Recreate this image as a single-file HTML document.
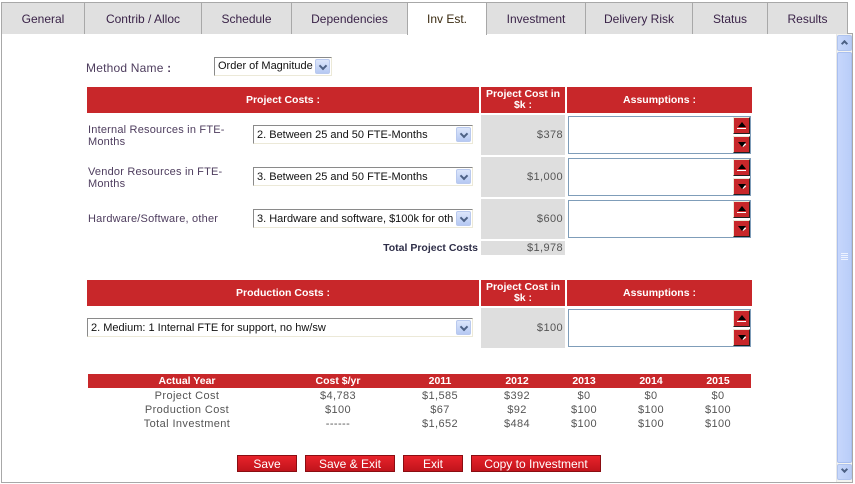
<!DOCTYPE html>
<html><head><meta charset="utf-8"><style>
*{margin:0;padding:0;box-sizing:border-box}
body{width:855px;height:484px;background:#fff;position:relative;overflow:hidden;font-family:"Liberation Sans",sans-serif}
.a{position:absolute}
.tab{position:absolute;top:2px;height:32px;background:#e0e0e0;border:1px solid #a8a8a8;border-bottom:none;font-size:12px;color:#3a2348;text-align:center;line-height:33px}
.tab.act{background:#fff;height:33px}
.red{position:absolute;background:#c8272a;color:#fff;font-weight:bold;font-size:10.5px;text-align:center}
.lbl{position:absolute;font-size:11px;color:#4e3d5e;line-height:12px;letter-spacing:0.2px}
.sel{position:absolute;height:19px;background:#fff;border:1px solid;border-color:#8a8a8a #ece9d8 #ece9d8 #8a8a8a;font-size:11px;color:#111;line-height:19px;padding-left:3px;white-space:nowrap;overflow:hidden}
.dd{position:absolute;right:1px;top:1px;width:15px;height:15px;background:linear-gradient(#dce6fb,#b6c9f3);border:1px solid #b9c9ee;border-radius:2px}
.dd:after{content:"";position:absolute;left:4px;top:3px;width:4px;height:4px;border-right:2px solid #4d6185;border-bottom:2px solid #4d6185;transform:rotate(45deg)}
.gray{position:absolute;background:#dedede;font-size:11px;color:#555;text-align:right;padding-right:2px;letter-spacing:0.4px}
.ta{position:absolute;border:1px solid #7f9db9;background:#fff}
.sp{position:absolute;width:17px;height:17px;background:#c8272a;border:1px solid;border-color:#ece9d8 #202020 #202020 #ece9d8}
.up:after{content:"";position:absolute;left:4px;top:4px;border-left:4px solid transparent;border-right:4px solid transparent;border-bottom:5px solid #000}
.up:before{content:"";position:absolute;left:3px;top:10px;width:9px;height:1px;background:#fff}
.dn:after{content:"";position:absolute;left:4px;top:5px;border-left:4px solid transparent;border-right:4px solid transparent;border-top:5px solid #000}
.dn:before{content:"";position:absolute;left:8px;top:7px;width:4px;height:2px;background:#fff;transform:rotate(-40deg)}
.cell{position:absolute;font-size:11px;color:#555;text-align:center;letter-spacing:0.4px;width:100px;line-height:13px}
.btn{position:absolute;top:455px;height:17px;background:linear-gradient(#e8232b,#c0141c);border:1px solid #8a0d12;color:#fff;font-size:12px;text-align:center;line-height:16px}
</style></head><body>
<!-- frame -->
<div class="a" style="left:1px;top:33px;width:852px;height:450px;border:1px solid #a8a8a8;border-top:1px solid #a8a8a8"></div>
<!-- tabs -->
<div class="tab" style="left:1px;width:84px">General</div>
<div class="tab" style="left:84px;width:118px">Contrib / Alloc</div>
<div class="tab" style="left:201px;width:91px">Schedule</div>
<div class="tab" style="left:291px;width:117px">Dependencies</div>
<div class="tab act" style="left:407px;width:80px;border-color:#a8a8a8;color:#3a2a10">Inv Est.</div>
<div class="tab" style="left:486px;width:100px">Investment</div>
<div class="tab" style="left:585px;width:108px">Delivery Risk</div>
<div class="tab" style="left:692px;width:76px">Status</div>
<div class="tab" style="left:767px;width:81px">Results</div>
<div class="a" style="left:408px;top:33px;width:78px;height:2px;background:#fff"></div>
<!-- scrollbar -->
<div class="a" style="left:836px;top:34px;width:16px;height:448px;background:#f4f4f0;border-left:1px solid #e8e8e8"></div>
<div class="a" style="left:837px;top:35px;width:15px;height:16px;background:linear-gradient(90deg,#c8d8fb,#b8cbf5);border:1px solid #b0c4ee;border-radius:2px"></div>
<div class="a" style="left:842px;top:41px;width:5px;height:5px;border-left:2px solid #4d6185;border-top:2px solid #4d6185;transform:rotate(45deg)"></div>
<div class="a" style="left:837px;top:52px;width:15px;height:411px;background:linear-gradient(90deg,#c6d6fc,#b9cdf8);border:1px solid #a9bff0;border-radius:2px"></div>
<div class="a" style="left:841px;top:253px;width:7px;height:1px;background:#eef3ff;box-shadow:0 2px 0 #eef3ff,0 4px 0 #eef3ff,0 6px 0 #eef3ff"></div>
<div class="a" style="left:837px;top:464px;width:15px;height:16px;background:linear-gradient(90deg,#c8d8fb,#b8cbf5);border:1px solid #b0c4ee;border-radius:2px"></div>
<div class="a" style="left:842px;top:467px;width:5px;height:5px;border-right:2px solid #4d6185;border-bottom:2px solid #4d6185;transform:rotate(45deg)"></div>

<!-- method -->
<div class="lbl" style="left:86px;top:62px;font-size:12px;line-height:13px">Method Name <b>:</b></div>
<div class="sel" style="left:214px;top:57px;width:118px;height:19px;line-height:17px">Order of Magnitude<div class="dd"></div></div>

<!-- project costs header -->
<div class="red" style="left:87px;top:87px;width:392px;height:26px;line-height:26px">Project Costs :</div>
<div class="red" style="left:481px;top:87px;width:84px;height:26px;line-height:11px;padding-top:2px">Project Cost in $k :</div>
<div class="red" style="left:567px;top:87px;width:185px;height:26px;line-height:26px">Assumptions :</div>

<!-- row1 -->
<div class="lbl" style="left:88px;top:124px">Internal Resources in FTE-<br>Months</div>
<div class="sel" style="left:253px;top:125px;width:220px">2. Between 25 and 50 FTE-Months<div class="dd"></div></div>
<div class="gray" style="left:481px;top:115px;width:84px;height:40px;line-height:41px">$378</div>
<div class="ta" style="left:568px;top:116px;width:183px;height:38px"></div>
<div class="sp up" style="left:733px;top:117px"></div>
<div class="sp dn" style="left:733px;top:136px"></div>
<!-- row2 -->
<div class="lbl" style="left:88px;top:166px">Vendor Resources in FTE-<br>Months</div>
<div class="sel" style="left:253px;top:167px;width:220px">3. Between 25 and 50 FTE-Months<div class="dd"></div></div>
<div class="gray" style="left:481px;top:157px;width:84px;height:40px;line-height:41px">$1,000</div>
<div class="ta" style="left:568px;top:158px;width:183px;height:38px"></div>
<div class="sp up" style="left:733px;top:159px"></div>
<div class="sp dn" style="left:733px;top:178px"></div>
<!-- row3 -->
<div class="lbl" style="left:88px;top:213px">Hardware/Software, other</div>
<div class="sel" style="left:253px;top:209px;width:220px">3. Hardware and software, $100k for oth<div class="dd"></div></div>
<div class="gray" style="left:481px;top:199px;width:84px;height:40px;line-height:41px">$600</div>
<div class="ta" style="left:568px;top:200px;width:183px;height:38px"></div>
<div class="sp up" style="left:733px;top:201px"></div>
<div class="sp dn" style="left:733px;top:220px"></div>
<!-- total -->
<div class="a" style="left:300px;top:242px;width:178px;text-align:right;font-size:10.5px;font-weight:bold;color:#2e2e48">Total Project Costs</div>
<div class="gray" style="left:481px;top:241px;width:84px;height:14px;line-height:15px">$1,978</div>

<!-- production -->
<div class="red" style="left:87px;top:280px;width:392px;height:26px;line-height:26px">Production Costs :</div>
<div class="red" style="left:481px;top:280px;width:84px;height:26px;line-height:11px;padding-top:2px">Project Cost in $k :</div>
<div class="red" style="left:567px;top:280px;width:185px;height:26px;line-height:26px">Assumptions :</div>
<div class="sel" style="left:87px;top:318px;width:386px">2. Medium: 1 Internal FTE for support, no hw/sw<div class="dd"></div></div>
<div class="gray" style="left:481px;top:308px;width:84px;height:40px;line-height:41px">$100</div>
<div class="ta" style="left:568px;top:309px;width:183px;height:38px"></div>
<div class="sp up" style="left:733px;top:310px"></div>
<div class="sp dn" style="left:733px;top:329px"></div>

<!-- summary table -->
<div class="red" style="left:88px;top:374px;width:663px;height:14px"></div>
<div class="red" style="left:137px;top:374px;width:100px;height:14px;line-height:14px;background:none">Actual Year</div>
<div class="red" style="left:288px;top:374px;width:100px;height:14px;line-height:14px;background:none">Cost $/yr</div>
<div class="red" style="left:390px;top:374px;width:100px;height:14px;line-height:14px;background:none">2011</div>
<div class="red" style="left:467px;top:374px;width:100px;height:14px;line-height:14px;background:none">2012</div>
<div class="red" style="left:534px;top:374px;width:100px;height:14px;line-height:14px;background:none">2013</div>
<div class="red" style="left:601px;top:374px;width:100px;height:14px;line-height:14px;background:none">2014</div>
<div class="red" style="left:668px;top:374px;width:100px;height:14px;line-height:14px;background:none">2015</div>

<div class="cell" style="left:137px;top:390px">Project Cost</div>
<div class="cell" style="left:288px;top:390px">$4,783</div>
<div class="cell" style="left:390px;top:390px">$1,585</div>
<div class="cell" style="left:467px;top:390px">$392</div>
<div class="cell" style="left:534px;top:390px">$0</div>
<div class="cell" style="left:601px;top:390px">$0</div>
<div class="cell" style="left:668px;top:390px">$0</div>

<div class="cell" style="left:137px;top:404px">Production Cost</div>
<div class="cell" style="left:288px;top:404px">$100</div>
<div class="cell" style="left:390px;top:404px">$67</div>
<div class="cell" style="left:467px;top:404px">$92</div>
<div class="cell" style="left:534px;top:404px">$100</div>
<div class="cell" style="left:601px;top:404px">$100</div>
<div class="cell" style="left:668px;top:404px">$100</div>

<div class="cell" style="left:137px;top:418px">Total Investment</div>
<div class="cell" style="left:288px;top:418px">------</div>
<div class="cell" style="left:390px;top:418px">$1,652</div>
<div class="cell" style="left:467px;top:418px">$484</div>
<div class="cell" style="left:534px;top:418px">$100</div>
<div class="cell" style="left:601px;top:418px">$100</div>
<div class="cell" style="left:668px;top:418px">$100</div>

<!-- buttons -->
<div class="btn" style="left:237px;width:60px">Save</div>
<div class="btn" style="left:305px;width:90px">Save &amp; Exit</div>
<div class="btn" style="left:403px;width:60px">Exit</div>
<div class="btn" style="left:471px;width:130px">Copy to Investment</div>
</body></html>
